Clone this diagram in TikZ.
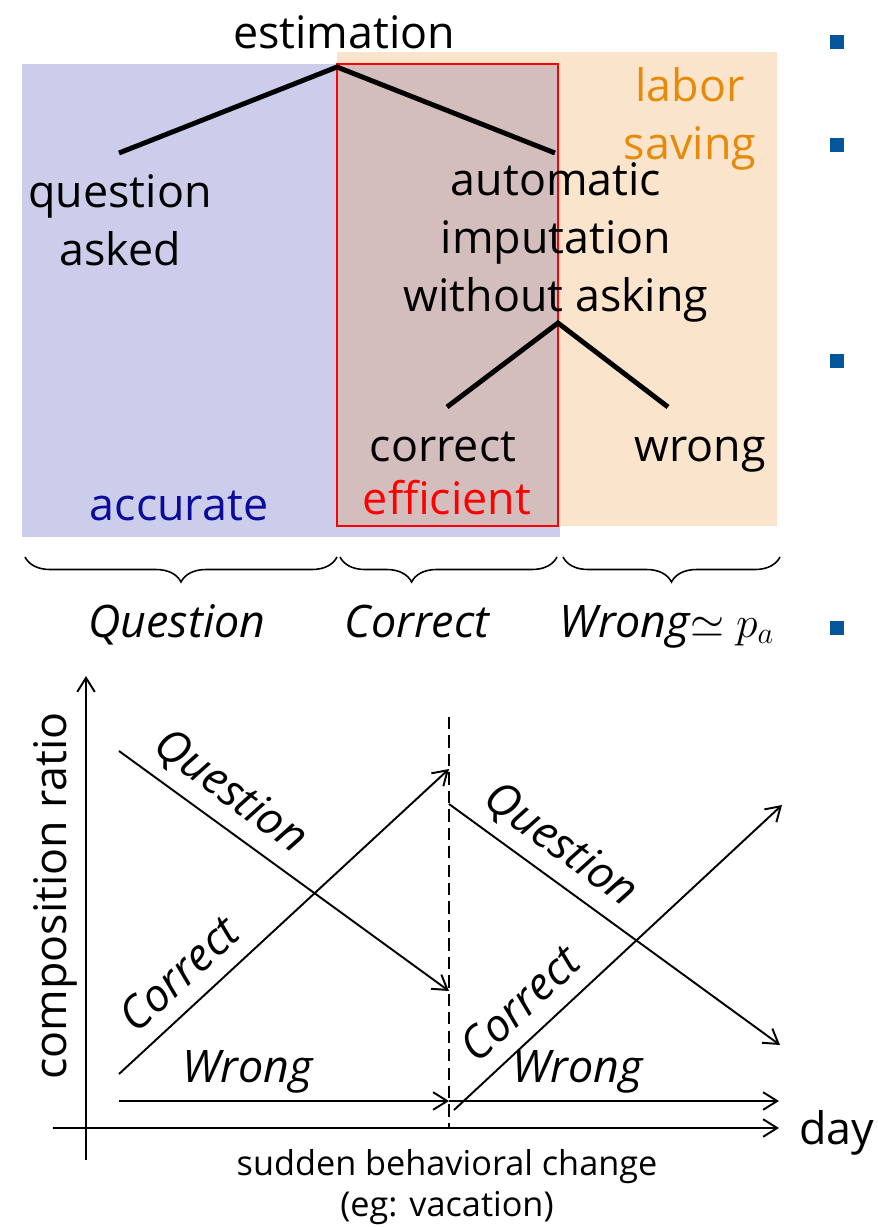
\documentclass[tikz,border=0pt]{standalone}
\usepackage{fontspec}
\setmainfont{Open Sans}
\usepackage{xcolor}
\usetikzlibrary{arrows.meta,decorations.pathreplacing}

\definecolor{askfill}{RGB}{203,205,235}
\definecolor{laborfill}{RGB}{250,229,204}
\definecolor{bothfill}{RGB}{211,190,189}
\definecolor{laborcol}{RGB}{230,138,10}
\definecolor{acccol}{RGB}{10,10,155}
\definecolor{bulletcol}{RGB}{4,85,153}
\newcommand\bigsize{\fontsize{25.5}{33}\selectfont}
\newcommand\smallsize{\fontsize{19.5}{23}\selectfont}

\tikzset{
  lbl/.style={font=\bigsize, inner sep=0pt},
  itl/.style={font=\bigsize\itshape, inner sep=0pt},
  note/.style={font=\smallsize, inner sep=0pt},
  branch/.style={line width=2.8pt},
  trend/.style={line width=1.1pt},
  brc/.style={line width=0.9pt, decorate, decoration={brace, mirror, amplitude=0.5cm}},
}

\begin{document}
\begin{tikzpicture}[x=0.02cm, y=-0.02cm, >={Straight Barb[length=8pt,width=10pt]}]
  \useasboundingbox (0,0) rectangle (877,1227);
  % ---- shaded areas
  \fill[askfill] (22,64) rectangle (560,537);
  \fill[laborfill] (337,52) rectangle (777,526);
  \fill[bothfill] (337,64) rectangle (558,526);
  \draw[red, line width=1.3pt] (337,64) rectangle (558,526);
  % ---- tree (multi-line nodes sit on their last baseline)
  \node[lbl, anchor=base] (est) at (344,48) {estimation};
  \node[lbl, anchor=base, align=center, text=laborcol] (labor) at (690,159) {labor\\saving};
  \node[lbl, anchor=base, align=center] (qask) at (120,265) {question\\asked};
  \node[lbl, anchor=base, align=center] (imput) at (556,311) {automatic\\imputation\\without asking};
  \node[lbl, anchor=base] (corr) at (443,461) {correct};
  \node[lbl, anchor=base, text=red] (eff) at (447,514) {efficient};
  \node[lbl, anchor=base] (wrong) at (700,461) {wrong};
  \node[lbl, anchor=base, text=acccol] (acc) at (179,520) {accurate};
  \coordinate (root) at (337,67);
  \coordinate (qa) at (119,153);
  \coordinate (ai) at (555,153);
  \coordinate (fork) at (558,323);
  \coordinate (cl) at (447,407);
  \coordinate (wl) at (668,407);
  \draw[branch] (qa) -- (root) -- (ai);
  \draw[branch] (cl) -- (fork) -- (wl);
  % ---- braces and shares
  \coordinate (b0) at (25,557);
  \coordinate (b1) at (337,557);
  \coordinate (b2) at (340,557);
  \coordinate (b3) at (557,557);
  \coordinate (b4) at (563,557);
  \coordinate (b5) at (780,557);
  \draw[brc] (b0) -- (b1);
  \draw[brc, decoration={aspect=0.33}] (b2) -- (b3);
  \draw[brc] (b4) -- (b5);
  \node[itl, anchor=base] (shq) at (177,637) {Question};
  \node[itl, anchor=base] (shc) at (417,637) {Correct};
  \node[itl, anchor=base] (shw) at (667,637) {Wrong$\simeq p_a$};
  % ---- bullets on the right
  \foreach \y in {42,145,361,628} {
    \fill[bulletcol] (830,\y-7) rectangle ++(14,14);
  }
  % ---- axes
  \coordinate (ybot) at (86,1160);
  \coordinate (ytip) at (86,676);
  \coordinate (xbeg) at (53,1128);
  \coordinate (xtip) at (779,1128);
  \draw[trend, ->] (ybot) -- (ytip);
  \draw[trend, ->] (xbeg) -- (xtip);
  \node[lbl, anchor=base west] (day) at (799,1144) {day};
  \node[lbl, rotate=90, anchor=base] (ratio) at (66,896) {composition ratio};
  % ---- behavioral change
  \coordinate (dtop) at (449,717);
  \coordinate (dbot) at (449,1128);
  \draw[trend, dash pattern=on 7pt off 3.5pt] (dtop) -- (dbot);
  \node[note, anchor=base, align=center] (chg) at (447,1216) {sudden behavioral change\\(eg: vacation)};
  % ---- before the change
  \coordinate (q1s) at (119,751);  \coordinate (q1e) at (449,991);
  \coordinate (c1s) at (119,1074); \coordinate (c1e) at (449,769);
  \coordinate (w1s) at (119,1101); \coordinate (w1e) at (449,1101);
  \draw[trend, ->] (q1s) -- (q1e) node[itl, sloped, above=6pt, pos=0.28] {Question};
  \draw[trend, ->] (c1s) -- (c1e) node[itl, sloped, above=9pt, pos=0.25] {Correct};
  \draw[trend, ->] (w1s) -- (w1e) node[itl, above=4pt, pos=0.39] {Wrong};
  % ---- after the change
  \coordinate (q2s) at (449,804);  \coordinate (q2e) at (780,1045);
  \coordinate (c2s) at (454,1110); \coordinate (c2e) at (782,805);
  \coordinate (w2s) at (449,1101); \coordinate (w2e) at (779,1101);
  \draw[trend, ->] (q2s) -- (q2e) node[itl, sloped, above=6pt, pos=0.28] {Question};
  \draw[trend, ->] (c2s) -- (c2e) node[itl, sloped, above=9pt, pos=0.27] {Correct};
  \draw[trend, ->] (w2s) -- (w2e) node[itl, above=4pt, pos=0.39] {Wrong};
\end{tikzpicture}
\end{document}
